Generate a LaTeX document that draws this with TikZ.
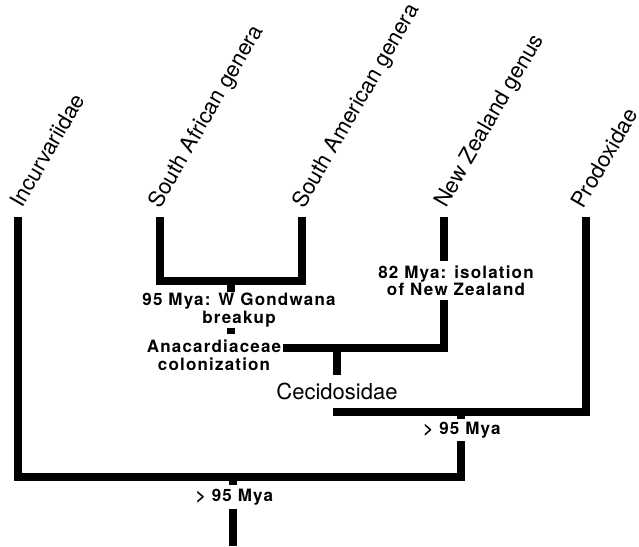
\documentclass[tikz,border=0pt]{standalone}
\usepackage{fontspec}
\setmainfont{TeX Gyre Heros}
\newfontfamily\datefont[LetterSpace=7]{TeX Gyre Heros}

\begin{document}
\begin{tikzpicture}[x=1pt, y=-1pt,
    branch/.style={line width=8pt, line join=miter},
    tip/.style={rotate=60, anchor=base west, inner sep=0pt,
        font=\fontsize{22}{26}\selectfont},
    event/.style={align=center, fill=white, inner xsep=2pt,
        font=\datefont\bfseries\fontsize{17}{17.5}\selectfont},
    taxon/.style={fill=white, inner xsep=2pt, inner ysep=8pt, font=\fontsize{22}{26}\selectfont}]
    \useasboundingbox (0,0) rectangle (639,546);

    \coordinate (incurv-tip) at (17.5,217);
    \coordinate (safr-tip) at (160,217);
    \coordinate (sam-tip) at (302,217);
    \coordinate (nz-tip) at (443.5,217);
    \coordinate (prod-tip) at (586,217);
    \coordinate (gw-mid) at (231,281);
    \coordinate (cec-mid) at (337,348);
    \coordinate (prod-mid) at (461,412);
    \coordinate (root-mid) at (233,477);
    \coordinate (root) at (233,546);

    \node[tip] (incurv) at (22.5,209) {Incurvariidae};
    \node[tip] (safr) at (160,209.5) {South African genera};
    \node[tip] (sam) at (304,209.5) {South American genera};
    \node[tip] (nz) at (446,209) {New Zealand genus};
    \node[tip] (prod) at (583.5,210) {Prodoxidae};

    \node[event, inner ysep=6pt] (anacard) at (214,355) {Anacardiaceae\\colonization};

    \draw[branch] (safr-tip) |- (gw-mid) -| (sam-tip);
    \draw[branch] (gw-mid) -- (gw-mid |- anacard.north);
    \draw[branch] (anacard.east |- cec-mid) -| (nz-tip);
    \draw[branch] (cec-mid) |- (prod-mid) -| (prod-tip);
    \draw[branch] (incurv-tip) |- (root-mid) -| (prod-mid);
    \draw[branch] (root-mid) -- (root);

    % labels sit on top of the branches
    \node[event, inner ysep=1pt] (gondwana) at (239,310) {95 Mya: W Gondwana\\breakup};
    \node[event, inner ysep=4pt] (nzsplit) at (456,280.5) {82 Mya: isolation\\of New Zealand};
    \node[taxon] (cecid) at (337,391.5) {Cecidosidae};
    \node[event, inner ysep=3pt] (mya-a) at (462,430) {> 95 Mya};
    \node[event, inner ysep=4pt] (mya-b) at (234.5,497) {> 95 Mya};
\end{tikzpicture}
\end{document}
